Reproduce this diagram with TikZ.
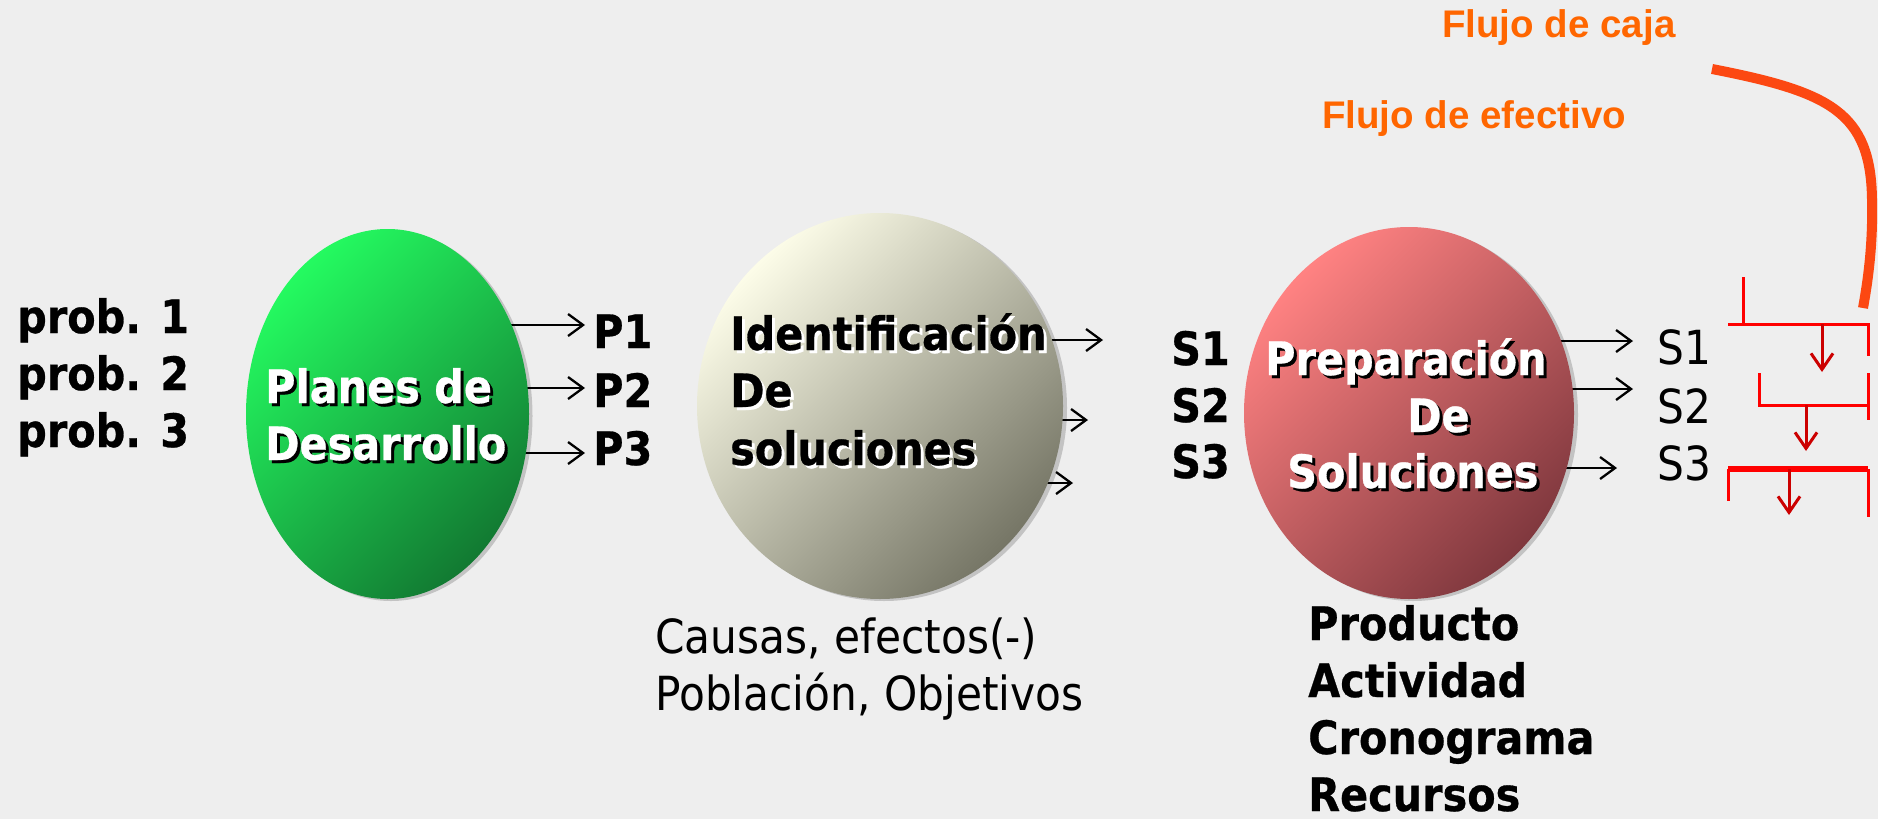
\documentclass[tikz,border=0pt]{standalone}
\usepackage{fontspec}
\newfontfamily\tah[FakeStretch=0.9, BoldFeatures={FakeBold=0.6}]{DejaVu Sans}
\newfontfamily\ari{Liberation Sans}
\usetikzlibrary{shapes.geometric,arrows.meta}
\pgfdeclarelayer{base}
\pgfdeclarelayer{arrs}
\pgfsetlayers{base,arrs,main}
\definecolor{bg}{RGB}{238,238,238}
\definecolor{flujo}{RGB}{255,102,0}
\definecolor{curva}{RGB}{252,72,18}
\definecolor{rline}{RGB}{255,0,0}
\definecolor{rarr}{RGB}{204,0,0}
\definecolor{gA}{RGB}{36,250,96}
\definecolor{gB}{RGB}{18,122,50}
\definecolor{iA}{RGB}{252,252,232}
\definecolor{iB}{RGB}{118,118,102}
\definecolor{pA}{RGB}{255,130,130}
\definecolor{pB}{RGB}{128,56,62}
\tikzset{
  bt/.style={font=\tah\bfseries\fontsize{46}{55}\selectfont, anchor=base west, inner sep=0pt},
  rt/.style={font=\tah\fontsize{47}{55}\selectfont, anchor=base west, inner sep=0pt},
  ot/.style={font=\ari\bfseries\fontsize{38.5}{46}\selectfont, text=flujo, anchor=base west, inner sep=0pt},
  blob/.style={ellipse, inner sep=0pt, outer sep=0pt},
  rim/.style={ellipse, inner sep=0pt, outer sep=0pt, fill=black, fill opacity=0.18},
  arr/.style={-{Straight Barb[length=15pt,width=22pt]}, line width=2.3pt, black},
  rl/.style={rline, line width=3pt},
  darr/.style={rarr, line width=3pt, -{Straight Barb[length=16pt,width=22pt]}},
}
\begin{document}
\begin{tikzpicture}[x=1pt,y=-1pt]
\begin{pgfonlayer}{base}
\fill[bg] (0,0) rectangle (1878,819);
\end{pgfonlayer}
\useasboundingbox (0,0) rectangle (1878,819);

% ellipses (with a faint rim)
\node[rim, minimum width=283pt, minimum height=370pt] (greenrim) at (391,416) {};
\node[blob, minimum width=283pt, minimum height=370pt, top color=gA, bottom color=gB, shading angle=45] (green) at (387.5,414) {};
\node[rim, minimum width=366pt, minimum height=386pt] (identrim) at (884,408) {};
\node[blob, minimum width=366pt, minimum height=386pt, top color=iA, bottom color=iB, shading angle=45] (ident) at (880,406) {};
\node[rim, minimum width=330pt, minimum height=372pt] (preprim) at (1413,415) {};
\node[blob, minimum width=330pt, minimum height=372pt, top color=pA, bottom color=pB, shading angle=45] (prep) at (1409,413) {};

% left labels
\node[bt] (pr1) at (17,333) {prob. 1};
\node[bt] (pr2) at (17,390) {prob. 2};
\node[bt] (pr3) at (17,447) {prob. 3};

% text in green ellipse
\node[bt, text=black] (pl1s) at (268,406) {Planes de};
\node[bt, text=black] (pl2s) at (268,463) {Desarrollo};
\node[bt, text=white] (pl1) at (265,403) {Planes de};
\node[bt, text=white] (pl2) at (265,460) {Desarrollo};

% P labels
\node[bt] (P1) at (593,348) {P1};
\node[bt] (P2) at (593,407) {P2};
\node[bt] (P3) at (593,465) {P3};
\coordinate (pe1) at (585,325);
\coordinate (pe2) at (585,388);
\coordinate (pe3) at (585,453);

% text in identification ellipse
\node[bt, text=white] (id1s) at (733,353) {Identificación};
\node[bt, text=white] (id2s) at (733,410) {De};
\node[bt, text=white] (id3s) at (733,468) {soluciones};
\node[bt, text=black] (id1) at (730,350) {Identificación};
\node[bt, text=black] (id2) at (730,407) {De};
\node[bt, text=black] (id3) at (730,465) {soluciones};

\coordinate (se1) at (1103,340);
\coordinate (se2) at (1088,420);
\coordinate (se3) at (1073,483);

\node[bt] (S1) at (1171,365) {S1};
\node[bt] (S2) at (1171,422) {S2};
\node[bt] (S3) at (1171,478) {S3};

% text below identification
\node[rt] (ca) at (655,653) {Causas, efectos(-)};
\node[rt] (po) at (655,710) {Población, Objetivos};

% text in preparation ellipse
\node[bt, text=black] (pp1s) at (1268,378) {Preparación};
\node[bt, text=black] (pp2s) at (1410,435) {De};
\node[bt, text=black] (pp3s) at (1290,491) {Soluciones};
\node[bt, text=white] (pp1) at (1265,375) {Preparación};
\node[bt, text=white] (pp2) at (1407,432) {De};
\node[bt, text=white] (pp3) at (1287,488) {Soluciones};

\coordinate (te1) at (1633,341);
\coordinate (te2) at (1633,389);
\coordinate (te3) at (1617,468);

\node[rt] (T1) at (1657,364) {S1};
\node[rt] (T2) at (1657,423) {S2};
\node[rt] (T3) at (1657,480) {S3};

% arrows, drawn behind the ellipses
\begin{pgfonlayer}{arrs}
\draw[arr] (green.center |- pe1) -- (pe1);
\draw[arr] (green.center |- pe2) -- (pe2);
\draw[arr] (green.center |- pe3) -- (pe3);
\draw[arr] (ident.center |- se1) -- (se1);
\draw[arr] (ident.center |- se2) -- (se2);
\draw[arr] (ident.center |- se3) -- (se3);
\draw[arr] (prep.center |- te1) -- (te1);
\draw[arr] (prep.center |- te2) -- (te2);
\draw[arr] (prep.center |- te3) -- (te3);
\end{pgfonlayer}

% list below preparation
\node[bt] (l1) at (1308,640) {Producto};
\node[bt] (l2) at (1308,697) {Actividad};
\node[bt] (l3) at (1308,754) {Cronograma};
\node[bt] (l4) at (1308,811) {Recursos};

% orange titles
\node[ot] (fc) at (1442,37) {Flujo de caja};
\node[ot] (fe) at (1322,128) {Flujo de efectivo};

% orange curve
\coordinate (cA) at (1712,69);
\coordinate (cB) at (1872,200);
\coordinate (cC) at (1863,308);
\draw[curva, line width=10pt] (cA) .. controls (1830,92) and (1871,112) .. (cB)
      .. controls (1873,245) and (1868,280) .. (cC);

% cash flow brackets
\draw[rl] (1743,277) -- (1743,324);
\draw[rl] (1728,324) -- (1868,324) -- (1868,356);
\draw[darr] (1822,324) -- (1822,372);
\draw[rl] (1759,373) -- (1759,405) -- (1868,405);
\draw[rl] (1868,373) -- (1868,420);
\draw[darr] (1806,405) -- (1806,451);
\draw[rl, line width=6pt] (1728,469) -- (1868,469);
\draw[rl] (1728,469) -- (1728,501);
\draw[rl] (1868,469) -- (1868,517);
\draw[darr] (1789,469) -- (1789,515);
\end{tikzpicture}
\end{document}
